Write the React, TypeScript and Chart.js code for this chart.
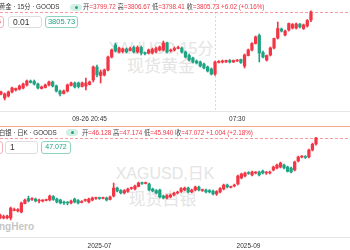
import React, { useEffect, useRef } from 'react';
import { Chart, registerables } from 'chart.js';

Chart.register(...registerables);

const FONT = "'Liberation Sans', 'Noto Sans CJK SC', sans-serif";
const RED = '#f23645';
const GREEN = '#1fa383';

// ---------- Gold, 15-minute candles ----------
const goldOpen = [
  3744.2, 3741.2, 3742.7, 3745.7, 3747.2, 3747.95, 3748.7, 3750.95, 3753.95, 3753.58,
  3751.7, 3748.33, 3749.08, 3750.95, 3753.2, 3750.2, 3746.45, 3744.58, 3746.45, 3750.58,
  3752.45, 3752.45, 3749.83, 3750.2, 3751.33, 3754.7, 3764.45, 3758.08, 3758.45, 3762.2,
  3771.95, 3780.95, 3775.7, 3776.08, 3777.95, 3776.83, 3779.08, 3775.7, 3779.08, 3775.33,
  3774.95, 3774.95, 3776.08, 3777.2, 3777.2, 3782.45, 3776.45, 3777.2, 3778.33, 3778.7,
  3775.7, 3773.08, 3771.2, 3768.95, 3768.2, 3766.7, 3764.45, 3762.95, 3759.2, 3767.83,
  3768.2, 3768.2, 3769.33, 3768.2, 3768.95, 3770.08, 3765.2, 3773.08, 3777.2, 3782.08,
  3788.08, 3775.33, 3769.7, 3773.45, 3778.7, 3786.2, 3792.95, 3788.45, 3792.2, 3793.7,
  3793.7, 3796.7, 3793.33, 3795.2, 3799.72,
];
const goldClose = [
  3745.7, 3744.2, 3745.7, 3748.7, 3748.33, 3750.2, 3751.7, 3753.95, 3752.83, 3751.7,
  3748.7, 3749.45, 3750.95, 3753.2, 3750.2, 3746.45, 3744.2, 3746.45, 3750.95, 3752.45,
  3749.45, 3749.83, 3752.45, 3752.45, 3753.2, 3764.45, 3758.45, 3760.7, 3762.2, 3771.95,
  3777.2, 3776.45, 3778.7, 3777.95, 3775.7, 3778.33, 3775.7, 3779.08, 3774.95, 3774.58,
  3777.2, 3777.58, 3778.33, 3779.45, 3782.45, 3775.7, 3777.2, 3778.33, 3779.08, 3775.7,
  3771.95, 3769.7, 3768.2, 3767.45, 3765.2, 3763.7, 3761.45, 3759.2, 3768.2, 3768.58,
  3768.95, 3769.33, 3768.2, 3769.33, 3769.7, 3767.83, 3773.45, 3777.2, 3782.08, 3786.95,
  3774.95, 3771.95, 3773.08, 3778.7, 3785.83, 3793.33, 3791.45, 3791.45, 3797.08, 3796.33,
  3796.7, 3794.45, 3795.95, 3799.33, 3805.73,
];
const goldHigh = [
  3746.45, 3744.95, 3746.45, 3749.45, 3748.7, 3750.95, 3752.45, 3754.7, 3754.7, 3754.7,
  3752.45, 3750.2, 3751.7, 3753.95, 3753.95, 3750.95, 3747.2, 3747.2, 3751.7, 3753.2,
  3753.2, 3753.2, 3753.2, 3756.2, 3753.95, 3765.2, 3765.95, 3762.2, 3762.95, 3772.7,
  3777.95, 3782.45, 3779.45, 3778.7, 3778.7, 3779.45, 3780.2, 3780.2, 3780.2, 3775.7,
  3777.95, 3778.7, 3779.45, 3780.2, 3783.95, 3783.2, 3777.95, 3779.45, 3780.2, 3779.45,
  3776.45, 3774.2, 3771.95, 3769.7, 3768.95, 3767.45, 3765.2, 3763.7, 3768.95, 3769.33,
  3769.7, 3769.7, 3770.08, 3769.7, 3770.08, 3770.45, 3774.2, 3777.95, 3782.83, 3787.7,
  3789.2, 3776.45, 3773.45, 3779.45, 3786.2, 3798.2, 3793.7, 3792.2, 3797.45, 3797.08,
  3797.45, 3797.08, 3796.7, 3800.08, 3806.67,
];
const goldLow = [
  3743.45, 3739.7, 3741.95, 3744.95, 3746.45, 3747.2, 3747.95, 3750.2, 3752.45, 3750.95,
  3747.95, 3747.95, 3748.7, 3750.2, 3749.45, 3745.7, 3742.7, 3744.2, 3745.7, 3750.2,
  3748.7, 3748.7, 3749.45, 3747.2, 3750.95, 3753.2, 3756.95, 3752.45, 3757.7, 3761.45,
  3771.2, 3775.7, 3774.95, 3774.95, 3774.95, 3776.45, 3774.95, 3774.95, 3773.45, 3773.45,
  3774.2, 3774.2, 3774.95, 3776.45, 3776.45, 3774.95, 3775.7, 3776.45, 3777.95, 3774.95,
  3771.2, 3768.95, 3767.45, 3766.7, 3764.45, 3762.95, 3760.7, 3758.45, 3758.08, 3767.45,
  3767.45, 3767.83, 3767.45, 3767.83, 3768.58, 3767.08, 3763.7, 3772.7, 3776.45, 3781.7,
  3768.2, 3771.2, 3768.95, 3772.7, 3777.95, 3785.45, 3790.7, 3787.7, 3791.45, 3792.95,
  3792.95, 3793.7, 3792.58, 3794.45, 3798.41,
];
const goldTickIndex = [24, 64];
const goldTickLabels = ['09-26 20:45', '07:30'];
const goldSessionBreak = 58;
const goldTitle = '黄金 · 15分 · GOODS';
const goldQuoteValues = ['3799.72', '3806.67', '3798.41', '3805.73'];
const goldChange = '+6.02 (+0.16%)';

// ---------- Silver, daily candles ----------
const silverOpen = [
  34.27, 34.27, 34.27, 34.27, 35.47, 35.39, 35.23, 36.59, 37.39, 37.23,
  37.31, 36.99, 36.99, 37.07, 37.15, 37.71, 37.31, 37.15, 36.83, 36.75,
  36.67, 37.31, 37.07, 36.75, 37.07, 36.83, 37.15, 37.39, 37.47, 37.39,
  37.47, 37.23, 37.79, 39.07, 38.67, 38.27, 38.51, 38.99, 38.91, 39.31,
  39.87, 39.79, 39.71, 38.91, 38.67, 38.75, 37.79, 37.47, 37.63, 37.95,
  38.27, 38.51, 38.75, 39.07, 38.43, 38.75, 39.23, 38.67, 38.75, 38.67,
  38.59, 38.11, 38.43, 38.91, 39.55, 39.15, 39.39, 39.71, 40.67, 40.99,
  41.55, 41.15, 41.47, 41.63, 41.79, 41.47, 41.47, 41.95, 42.27, 42.43,
  42.75, 42.43, 42.27, 41.95, 43.39, 44.03, 44.11, 44.03, 45.15, 46.128,
];
const silverClose = [
  34.75, 34.51, 34.59, 35.87, 35.63, 35.63, 36.67, 37.15, 36.99, 37.39,
  36.99, 37.07, 37.07, 37.15, 37.79, 37.23, 36.83, 36.67, 36.67, 36.67,
  36.99, 36.83, 36.67, 36.91, 37.15, 37.31, 37.47, 37.47, 37.39, 37.47,
  37.15, 37.63, 39.07, 38.59, 38.27, 38.67, 38.91, 39.07, 39.39, 39.87,
  39.79, 39.87, 38.75, 38.59, 38.27, 37.63, 37.47, 37.87, 37.95, 38.27,
  38.43, 38.99, 39.07, 38.43, 38.75, 39.23, 38.75, 38.75, 38.43, 38.43,
  38.11, 38.51, 38.99, 39.55, 39.23, 39.23, 39.55, 40.99, 41.31, 41.47,
  41.39, 41.63, 41.55, 41.15, 41.47, 41.55, 41.63, 42.43, 42.75, 43.07,
  42.27, 41.71, 41.63, 43.23, 44.03, 44.11, 43.95, 45.15, 46.07, 47.072,
];
const silverHigh = [
  34.91, 34.75, 34.75, 36.03, 35.87, 35.79, 36.83, 37.31, 37.79, 37.55,
  37.47, 37.31, 37.23, 37.31, 37.95, 37.87, 37.47, 37.31, 36.99, 36.91,
  37.15, 37.47, 37.23, 37.07, 37.31, 37.47, 37.63, 37.63, 37.63, 37.63,
  37.63, 37.79, 39.87, 39.23, 38.83, 38.83, 39.07, 39.23, 39.55, 40.03,
  40.03, 40.03, 39.87, 39.07, 38.83, 38.91, 37.95, 38.03, 38.11, 38.43,
  38.59, 39.15, 39.23, 39.23, 38.91, 39.39, 39.39, 38.91, 38.91, 38.83,
  38.75, 38.67, 39.15, 39.71, 39.71, 39.39, 39.71, 41.15, 41.47, 41.63,
  41.71, 41.79, 41.71, 41.79, 41.95, 41.71, 41.79, 42.59, 42.91, 43.23,
  42.91, 42.59, 42.43, 43.39, 44.19, 44.27, 44.27, 45.31, 46.27, 47.174,
];
const silverLow = [
  34.11, 34.11, 34.11, 33.95, 35.39, 35.23, 35.07, 36.51, 36.83, 37.07,
  36.83, 36.67, 36.83, 36.99, 36.99, 37.07, 36.67, 36.51, 36.43, 36.35,
  36.51, 36.67, 36.51, 36.67, 36.91, 36.67, 36.99, 37.23, 37.23, 37.31,
  36.99, 37.15, 37.63, 38.43, 38.11, 38.11, 38.35, 38.83, 38.75, 39.23,
  39.63, 39.71, 38.59, 38.43, 38.11, 37.47, 37.31, 37.31, 37.47, 37.79,
  38.11, 38.35, 38.59, 38.27, 38.27, 38.59, 38.59, 38.51, 38.27, 38.27,
  37.95, 37.87, 38.27, 38.75, 39.07, 39.07, 39.23, 39.55, 40.51, 40.83,
  41.23, 40.99, 41.31, 40.99, 41.31, 41.23, 41.31, 41.79, 42.11, 42.27,
  42.11, 41.63, 41.47, 41.79, 43.23, 43.87, 43.79, 43.87, 44.99, 45.94,
];
const silverTickIndex = [28, 70];
const silverTickLabels = ['2025-07', '2025-09'];
const silverTitle = '白银 · 日K · GOODS';
const silverQuoteValues = ['46.128', '47.174', '45.940', '47.072'];
const silverChange = '+1.004 (+2.18%)';

const quoteLabels = ['开', '高', '低', '收'];

const overlayPlugin = {
  id: 'overlay',
  beforeDatasetsDraw(chart: any, _args: any, opts: any) {
    const { ctx, chartArea, scales } = chart;
    ctx.save();
    ctx.lineWidth = 1;
    if (opts && opts.vLine != null) {
      const x = Math.round(scales.x.getPixelForValue(opts.vLine)) + 0.5;
      ctx.strokeStyle = '#dadada';
      ctx.setLineDash([2, 2]);
      ctx.beginPath();
      ctx.moveTo(x, chartArea.top);
      ctx.lineTo(x, chartArea.bottom);
      ctx.stroke();
    }
    if (opts && opts.priceLine != null) {
      const y = Math.round(scales.y.getPixelForValue(opts.priceLine)) + 0.5;
      ctx.strokeStyle = 'rgba(242,54,69,0.5)';
      ctx.setLineDash([3, 2]);
      ctx.beginPath();
      ctx.moveTo(chartArea.left, y);
      ctx.lineTo(chartArea.right, y);
      ctx.stroke();
    }
    ctx.restore();
  },
};

type ChartProps = {
  open: number[]; high: number[]; low: number[]; close: number[];
  xMin: number; xMax: number; yMin: number; yMax: number;
  tickIdx: number[]; tickLabels: string[];
  axisHeight: number; tickPad: number;
  top: number; height: number; vLine?: number;
};

function CandleChart(p: ChartProps) {
  const ref = useRef<HTMLCanvasElement>(null);
  useEffect(() => {
    const colors = p.close.map((c, i) => (c >= p.open[i] ? RED : GREEN));
    const chart = new Chart(ref.current as HTMLCanvasElement, {
      type: 'bar',
      data: {
        datasets: [
          {
            data: p.low.map((l, i) => ({ x: i, y: [l, p.high[i]] })) as any,
            backgroundColor: colors,
            barThickness: 1,
            grouped: false,
            order: 2,
          } as any,
          {
            data: p.open.map((o, i) => ({ x: i, y: [o, p.close[i]] })) as any,
            backgroundColor: colors,
            barThickness: 2.6,
            minBarLength: 1,
            grouped: false,
            order: 1,
          } as any,
        ],
      },
      options: {
        responsive: false,
        animation: false,
        devicePixelRatio: 1,
        layout: { padding: 0 },
        plugins: {
          legend: { display: false },
          tooltip: { enabled: false },
          overlay: { priceLine: p.close[p.close.length - 1], vLine: p.vLine },
        } as any,
        scales: {
          x: {
            type: 'linear',
            min: p.xMin,
            max: p.xMax,
            offset: false,
            grid: { display: false, offset: false, drawTicks: false },
            border: { display: true, color: '#e6e6e6', width: 1 },
            afterBuildTicks: (ax: any) => {
              ax.ticks = p.tickIdx.map((v) => ({ value: v }));
            },
            afterFit: (ax: any) => {
              ax.height = p.axisHeight;
            },
            ticks: {
              autoSkip: false,
              maxRotation: 0,
              minRotation: 0,
              padding: p.tickPad,
              color: '#333',
              font: { size: 6.5, family: FONT },
              callback: (v: any) => {
                const i = p.tickIdx.indexOf(Number(v));
                return i >= 0 ? p.tickLabels[i] : '';
              },
            },
          } as any,
          y: { display: false, min: p.yMin, max: p.yMax },
        },
      },
      plugins: [overlayPlugin as any],
    });
    return () => chart.destroy();
  }, []);
  return (
    <canvas
      ref={ref}
      width={350}
      height={p.height}
      style={{ position: 'absolute', left: 0, top: p.top, width: 350, height: p.height, display: 'block' }}
    />
  );
}

function Watermark({ text, cx, cy, size }: { text: string; cx: number; cy: number; size: number }) {
  return (
    <div
      style={{
        position: 'absolute', left: cx - 100, width: 200, top: cy - size * 0.6, height: size * 1.2,
        lineHeight: `${size * 1.2}px`, fontSize: size, textAlign: 'center', color: '#e4e4e4',
        whiteSpace: 'nowrap', fontFamily: FONT,
      }}
    >
      {text}
    </div>
  );
}

type BoxSpec = { left: number; width: number; border: string; color: string; text: string; align: string; fs: number; pad: number };

function Box({ b, top, height }: { b: BoxSpec; top: number; height: number }) {
  return (
    <div
      style={{
        position: 'absolute', left: b.left, top, width: b.width, height, boxSizing: 'border-box',
        border: `1px solid ${b.border}`, borderRadius: 3, background: '#fff', color: b.color,
        fontSize: b.fs, lineHeight: `${height - 2}px`, textAlign: b.align as any,
        paddingLeft: b.align === 'left' ? b.pad : 0, paddingRight: b.align === 'right' ? b.pad : 0,
        whiteSpace: 'nowrap', overflow: 'hidden', fontFamily: FONT,
      }}
    >
      {b.text}
    </div>
  );
}

function QuoteHeader(props: {
  cy: number; title: string; pillLeft: number; valuesLeft: number; values: string[]; change: string;
  boxTop: number; boxHeight: number; boxes: BoxSpec[];
}) {
  const { cy } = props;
  return (
    <>
      <div style={{ position: 'absolute', left: -1, top: cy - 4, fontSize: 6.3, lineHeight: '8px', color: '#333', whiteSpace: 'nowrap', fontFamily: FONT }}>
        {props.title}
      </div>
      <div style={{ position: 'absolute', left: props.pillLeft, top: cy - 3.5, width: 12, height: 7, borderRadius: 3.5, background: '#d4efe5' }}>
        <div style={{ position: 'absolute', left: 4.5, top: 2, width: 3, height: 3, borderRadius: 1.5, background: GREEN }} />
      </div>
      <div style={{ position: 'absolute', left: props.valuesLeft, top: cy - 4, fontSize: 6.3, lineHeight: '8px', whiteSpace: 'nowrap', fontFamily: FONT }}>
        {quoteLabels.map((k, i) => (
          <span key={k}>
            <span style={{ color: '#444' }}>{k}</span>
            <span style={{ color: RED }}>={props.values[i]}</span>{' '}
          </span>
        ))}
        <span style={{ color: RED }}>{props.change}</span>
      </div>
      {props.boxes.map((b, i) => (
        <Box key={i} b={b} top={props.boxTop} height={props.boxHeight} />
      ))}
    </>
  );
}

const goldBoxes: BoxSpec[] = [
  { left: -20, width: 24, border: '#f5b3b8', color: RED, text: '5', align: 'right', fs: 8, pad: 2 },
  { left: 8, width: 34, border: '#dedede', color: '#333', text: '0.01', align: 'left', fs: 8.5, pad: 4 },
  { left: 45, width: 33, border: '#8ed3bd', color: GREEN, text: '3805.73', align: 'center', fs: 7.5, pad: 0 },
];
const silverBoxes: BoxSpec[] = [
  { left: -20, width: 23, border: '#f5b3b8', color: RED, text: '', align: 'right', fs: 8, pad: 2 },
  { left: 5, width: 33, border: '#dedede', color: '#333', text: '1', align: 'left', fs: 8.5, pad: 4 },
  { left: 41, width: 30, border: '#8ed3bd', color: GREEN, text: '47.072', align: 'center', fs: 7, pad: 0 },
];

export default function App() {
  return (
    <div style={{ position: 'absolute', left: 0, top: 0, width: 350, height: 250, overflow: 'hidden', background: '#fff', fontFamily: FONT }}>
      <Watermark text="XAUUSD,15分" cx={161} cy={49} size={16} />
      <Watermark text="现货黄金" cx={161} cy={67.5} size={17} />
      <Watermark text="XAGUSD,日K" cx={165} cy={174} size={16} />
      <Watermark text="现货白银" cx={162.5} cy={200} size={17} />
      <div style={{ position: 'absolute', left: -1, top: 221, fontSize: 10, lineHeight: '12px', fontWeight: 700, color: '#c6c6c6', fontFamily: FONT }}>
        ngHero
      </div>

      <CandleChart
        open={goldOpen} high={goldHigh} low={goldLow} close={goldClose}
        xMin={-0.271} xMax={94.58} yMin={3731.45} yMax={3814.7}
        tickIdx={goldTickIndex} tickLabels={goldTickLabels}
        axisHeight={15} tickPad={4} top={0} height={126} vLine={goldSessionBreak}
      />
      <CandleChart
        open={silverOpen} high={silverHigh} low={silverLow} close={silverClose}
        xMin={-0.014} xMax={98.58} yMin={31.12} yMax={48.83}
        tickIdx={silverTickIndex} tickLabels={silverTickLabels}
        axisHeight={12.3} tickPad={5} top={127} height={123}
      />

      <div style={{ position: 'absolute', left: 0, top: 126, width: 350, height: 1, background: '#f4a98f' }} />

      <QuoteHeader
        cy={7} title={goldTitle} pillLeft={70} valuesLeft={83} values={goldQuoteValues} change={goldChange}
        boxTop={16} boxHeight={12} boxes={goldBoxes}
      />
      <QuoteHeader
        cy={132.5} title={silverTitle} pillLeft={66} valuesLeft={82} values={silverQuoteValues} change={silverChange}
        boxTop={141} boxHeight={12.5} boxes={silverBoxes}
      />
    </div>
  );
}
